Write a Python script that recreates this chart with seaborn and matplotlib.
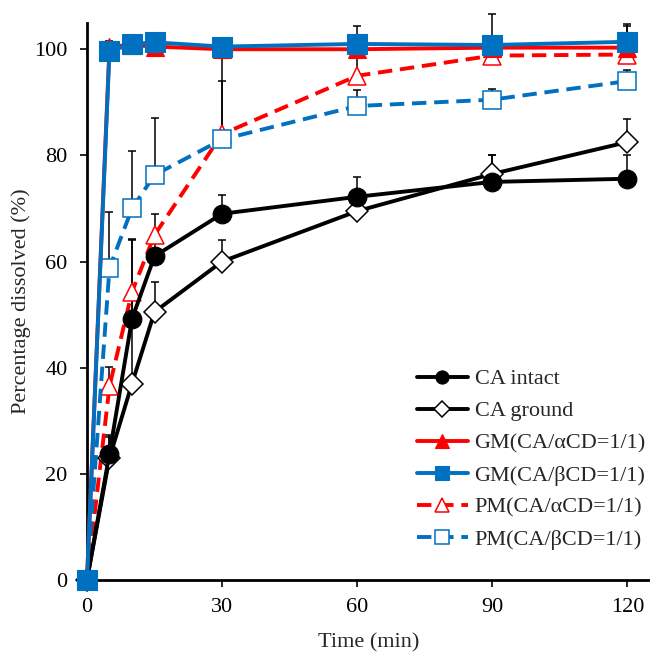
import numpy as np
import pandas as pd
import matplotlib
matplotlib.use("Agg")
import matplotlib.pyplot as plt
import seaborn as sns

sns.set_style("ticks")
plt.rcParams["font.family"] = ["Liberation Serif", "DejaVu Serif"]

# Dissolution data
time_min = [0, 5, 10, 15, 30, 60, 90, 120]

ca_intact = [0, 23.8, 49.2, 61.0, 69.0, 72.2, 75.0, 75.6]
ca_intact_sd = [0, 3.6, 5.0, 4.0, 3.5, 3.7, 5.0, 4.5]

ca_ground = [0, 23.0, 37.0, 50.5, 60.0, 69.5, 76.5, 82.5]
ca_ground_sd = [0, 4.0, 27.0, 5.7, 4.0, 2.0, 3.5, 4.3]

gm_alpha = [0, 100.5, 100.8, 100.5, 100.0, 100.0, 100.3, 100.3]
gm_alpha_sd = [0, 1.0, 1.0, 1.0, 1.0, 1.0, 1.0, 4.0]

gm_beta = [0, 99.6, 101.0, 101.3, 100.5, 101.0, 100.8, 101.4]
gm_beta_sd = [0, 0.5, 0.5, 0.5, 0.5, 3.3, 5.8, 3.3]

pm_alpha = [0, 36.5, 54.3, 65.0, 84.0, 95.0, 98.8, 99.0]
pm_alpha_sd = [0, 3.7, 10.0, 4.0, 16.0, 5.0, 2.0, 2.0]

pm_beta = [0, 58.8, 70.0, 76.3, 83.0, 89.3, 90.5, 94.0]
pm_beta_sd = [0, 10.6, 10.8, 10.8, 11.0, 3.0, 2.0, 2.0]

RED = "#FF0000"
BLUE = "#0070C0"
DASH = (0, (3.7, 2.0))

# label, values, sd, color, marker, face, linestyle, markersize
series = [
    ("PM(CA/\u03b1CD=1/1)", pm_alpha, pm_alpha_sd, RED, "^", "white", DASH, 13.5),
    ("PM(CA/\u03b2CD=1/1)", pm_beta, pm_beta_sd, BLUE, "s", "white", DASH, 13.5),
    ("CA ground", ca_ground, ca_ground_sd, "black", "D", "white", "-", 11),
    ("CA intact", ca_intact, ca_intact_sd, "black", "o", "black", "-", 13.5),
    ("GM(CA/\u03b1CD=1/1)", gm_alpha, gm_alpha_sd, RED, "^", RED, "-", 13.5),
    ("GM(CA/\u03b2CD=1/1)", gm_beta, gm_beta_sd, BLUE, "s", BLUE, "-", 14),
]
legend_order = ["CA intact", "CA ground", "GM(CA/\u03b1CD=1/1)",
                "GM(CA/\u03b2CD=1/1)", "PM(CA/\u03b1CD=1/1)", "PM(CA/\u03b2CD=1/1)"]

fig = plt.figure(figsize=(6.5, 6.56), dpi=100)
ax = fig.add_axes([0.1338, 0.1159, 0.866, 0.8495])

# Upper-only error bars, drawn below the lines
for label, vals, sd, color, marker, face, ls, ms in series:
    ax.errorbar(time_min, vals, yerr=[np.zeros(len(sd)), sd], fmt="none",
                ecolor="black", elinewidth=1.1, capsize=3, capthick=1.1,
                zorder=1, clip_on=False)

for i, (label, vals, sd, color, marker, face, ls, ms) in enumerate(series):
    df = pd.DataFrame({"Time": time_min, "Dissolved": vals})
    sns.lineplot(data=df, x="Time", y="Dissolved", ax=ax, color=color,
                 linestyle=ls, linewidth=2.8, marker=marker, markersize=ms,
                 markerfacecolor=face, markeredgecolor=color,
                 markeredgewidth=1.1 if face == "white" else 0.8,
                 label=label, errorbar=None, clip_on=False, zorder=3 + i)

ax.set_xlim(0, 125)
ax.set_ylim(0, 105)
ax.set_xticks([0, 30, 60, 90, 120])
ax.set_yticks([0, 20, 40, 60, 80, 100])
ax.set_xlabel("Time (min)", fontsize=16, labelpad=12)
ax.set_ylabel("Percentage dissolved (%)", fontsize=16, labelpad=2.5)
ax.tick_params(axis="both", direction="out", length=5, width=1.2,
               labelsize=16, color="black", labelcolor="black")
ax.tick_params(axis="y", pad=9)
ax.tick_params(axis="x", pad=8)
sns.despine(ax=ax)
for side in ["left", "bottom"]:
    ax.spines[side].set_linewidth(2.0)
    ax.spines[side].set_color("black")

handles, labels = ax.get_legend_handles_labels()
hmap = dict(zip(labels, handles))
ax.legend([hmap[l] for l in legend_order], legend_order, loc="lower left",
          bbox_to_anchor=(0.586, 0.054), frameon=False, fontsize=16,
          handlelength=2.3, handletextpad=0.3, labelspacing=0.52,
          borderpad=0, borderaxespad=0, markerscale=0.7, numpoints=1)

fig.savefig("out.png", dpi=100)
